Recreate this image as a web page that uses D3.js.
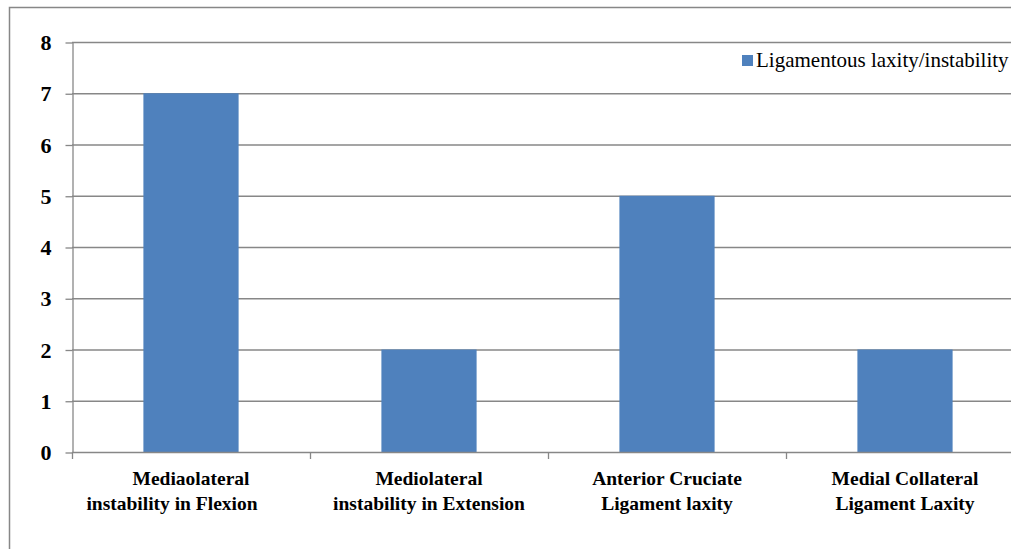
<html>
<head>
<script src="https://d3js.org/d3.v7.min.js"></script>
<style>
body { margin: 0; background: #fff; }
text { font-family: 'Liberation Serif', 'Times New Roman', serif; }
</style>
</head>
<body>
<svg width="1011" height="549"></svg>
<script>
var categories = [
  ["Mediaolateral", "instability in Flexion"],
  ["Mediolateral", "instability in Extension"],
  ["Anterior Cruciate", "Ligament laxity"],
  ["Medial Collateral", "Ligament Laxity"]
];
var values = [7, 2, 5, 2];
var yTicks = [0, 1, 2, 3, 4, 5, 6, 7, 8];
var seriesName = "Ligamentous laxity/instability";

var svg = d3.select("svg");
var grey = "#878787";

// outer frame (runs off the right/bottom edge)
svg.append("rect")
  .attr("x", 9.5).attr("y", 7.5)
  .attr("width", 1100).attr("height", 600)
  .attr("fill", "none").attr("stroke", grey).attr("stroke-width", 1.5);

var plotL = 72, plotR = 1024, plotT = 42, plotB = 452;

var x = d3.scaleBand()
  .domain(d3.range(categories.length))
  .range([plotL, plotR])
  .paddingInner(0.6).paddingOuter(0.3);
var step = x.step();

var y = d3.scaleLinear().domain([0, 8]).range([plotB, plotT]);

// gridlines
svg.selectAll("line.grid").data(yTicks.slice(1)).enter().append("line")
  .attr("class", "grid")
  .attr("x1", plotL).attr("x2", plotR)
  .attr("y1", function(d) { return y(d) + 0.5; })
  .attr("y2", function(d) { return y(d) + 0.5; })
  .attr("stroke", grey).attr("stroke-width", 1.3);

// bars
svg.selectAll("rect.bar").data(values).enter().append("rect")
  .attr("class", "bar")
  .attr("x", function(d, i) { return x(i); })
  .attr("y", function(d) { return y(d); })
  .attr("width", x.bandwidth())
  .attr("height", function(d) { return plotB - y(d); })
  .attr("fill", "#4f81bd");

// y axis
var yAxis = svg.append("g").attr("transform", "translate(" + (plotL + 0.5) + ",0.5)")
  .call(d3.axisLeft(y).tickValues(yTicks).tickSize(7).tickSizeOuter(0).tickPadding(14));
yAxis.select(".domain").attr("stroke", grey).attr("stroke-width", 1.3);
yAxis.selectAll(".tick line").attr("stroke", grey).attr("stroke-width", 1.3);
yAxis.selectAll(".tick text")
  .attr("font-size", "22px").attr("font-weight", "bold")
  .attr("font-family", "'Liberation Serif', 'Times New Roman', serif")
  .attr("fill", "#000");

// x axis line and boundary ticks
svg.append("line")
  .attr("x1", plotL).attr("x2", plotR)
  .attr("y1", plotB + 0.5).attr("y2", plotB + 0.5)
  .attr("stroke", grey).attr("stroke-width", 1.3);
svg.selectAll("line.xtick").data(d3.range(categories.length + 1)).enter().append("line")
  .attr("class", "xtick")
  .attr("x1", function(i) { return plotL + i * step + 0.5; })
  .attr("x2", function(i) { return plotL + i * step + 0.5; })
  .attr("y1", plotB).attr("y2", plotB + 7)
  .attr("stroke", grey).attr("stroke-width", 1.3);

// category labels (first label's 2nd line sits a bit left in the original)
var lab = svg.selectAll("text.cat").data(categories).enter().append("text")
  .attr("class", "cat")
  .attr("text-anchor", "middle")
  .attr("font-size", "19.5px").attr("font-weight", "bold");
lab.selectAll("tspan").data(function(d, i) {
    return d.map(function(s) { return { s: s, i: i }; });
  }).enter().append("tspan")
  .attr("x", function(d, j) {
    return x(d.i) + x.bandwidth() / 2 + (d.i === 0 && j === 1 ? -19 : 0);
  })
  .attr("y", function(d, j) { return 485 + j * 25; })
  .text(function(d) { return d.s; });

// legend
svg.append("rect").attr("x", 742).attr("y", 55).attr("width", 11).attr("height", 11)
  .attr("fill", "#4f81bd");
svg.append("text").attr("x", 756).attr("y", 67)
  .attr("font-size", "21px").text(seriesName);
</script>
</body>
</html>
